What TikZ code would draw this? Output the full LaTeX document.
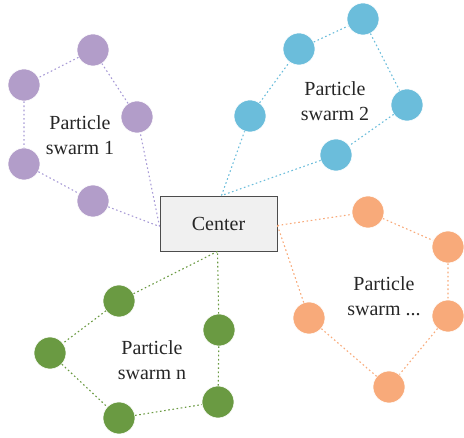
\documentclass[tikz,border=0pt]{standalone}
\usepackage{fontspec}
\setmainfont{Liberation Serif}
\begin{document}
\begin{tikzpicture}[x=1pt,y=-1pt,
  particle/.style={circle, minimum size=32pt, inner sep=0pt, draw=white, line width=0.6pt},
  link/.style={dash pattern=on 1.6pt off 2.6pt, line width=1.1pt},
  lbl/.style={align=center, font=\fontsize{20}{25}\selectfont, text=black!85},
  centerbox/.style={draw=black!70, fill=black!6, line width=0.9pt, minimum width=117pt, minimum height=55pt, inner sep=0pt, font=\fontsize{20}{25}\selectfont, text=black!85}]
\definecolor{cpur}{HTML}{B29DC9}
\definecolor{cpurl}{HTML}{A89BD6}
\definecolor{cblu}{HTML}{6BBDDB}
\definecolor{cora}{HTML}{F8AA7A}
\definecolor{cgrn}{HTML}{6A9A42}
\useasboundingbox (0,0) rectangle (464,438);

\node[centerbox] (C) at (218.5,223.5) {Center};

% purple swarm
\node[particle, fill=cpur] (p1) at (93,50) {};
\node[particle, fill=cpur] (p2) at (24,85) {};
\node[particle, fill=cpur] (p3) at (137,117) {};
\node[particle, fill=cpur] (p4) at (24,164) {};
\node[particle, fill=cpur] (p5) at (93,201) {};
\node[lbl] (t1) at (80,135) {Particle\\swarm 1};
\coordinate (cw) at ([yshift=-3pt]C.west);
\draw[link, cpurl] (p1) -- (p2) (p2) -- (p4) (p4) -- (p5) (p5) -- (cw) (cw) -- (p3) (p3) -- (p1);

% blue swarm
\node[particle, fill=cblu] (b1) at (363,19) {};
\node[particle, fill=cblu] (b2) at (299,49) {};
\node[particle, fill=cblu] (b3) at (250,116) {};
\node[particle, fill=cblu] (b4) at (407,105) {};
\node[particle, fill=cblu] (b5) at (336,155) {};
\node[lbl] (t2) at (335,101) {Particle\\swarm 2};
\coordinate (cn) at ([xshift=3pt]C.north);
\draw[link, cblu] (b2) -- (b1) (b1) -- (b4) (b4) -- (b5) (b5) -- (cn) (cn) -- (b3) (b3) -- (b2);

% orange swarm
\node[particle, fill=cora] (o1) at (368,212) {};
\node[particle, fill=cora] (o2) at (448,247) {};
\node[particle, fill=cora] (o3) at (309,318) {};
\node[particle, fill=cora] (o4) at (448,316) {};
\node[particle, fill=cora] (o5) at (389,387) {};
\node[lbl] (t3) at (384,296) {Particle\\swarm ...};
\coordinate (ce) at ([yshift=-2pt]C.east);
\draw[link, cora] (ce) -- (o1) (o1) -- (o2) (o2) -- (o4) (o4) -- (o5) (o5) -- (o3) (o3) -- (ce);

% green swarm
\node[particle, fill=cgrn] (g1) at (119,301) {};
\node[particle, fill=cgrn] (g2) at (50,353) {};
\node[particle, fill=cgrn] (g3) at (219,330) {};
\node[particle, fill=cgrn] (g4) at (119,418) {};
\node[particle, fill=cgrn] (g5) at (218,402) {};
\node[lbl] (t4) at (152,360) {Particle\\swarm n};
\coordinate (cs) at ([xshift=-1pt]C.south);
\draw[link, cgrn] (cs) -- (g1) (g1) -- (g2) (g2) -- (g4) (g4) -- (g5) (g5) -- (g3) (g3) -- (cs);
\end{tikzpicture}
\end{document}
